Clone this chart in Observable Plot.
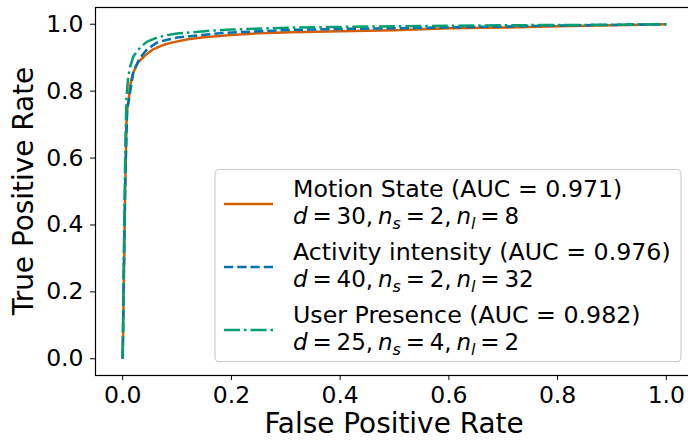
<!DOCTYPE html>
<html><head><meta charset="utf-8">
<script src="https://cdn.jsdelivr.net/npm/d3@7"></script>
<script src="https://cdn.jsdelivr.net/npm/@observablehq/plot@0.6"></script>
<style>
body{margin:0;background:#fff;overflow:hidden}
#chart{width:688px;height:440px;overflow:hidden;position:relative}
</style>
</head><body><div id="chart"></div>
<script>
// ---- data ----
const seriesNames = ["Motion State", "Activity intensity", "User Presence"];
const aucValues = [0.971, 0.976, 0.982];
const dValues = [30, 40, 25];
const nsValues = [2, 2, 4];
const nlValues = [8, 32, 2];
const seriesColors = ["#D55E00", "#0072B2", "#009E73"];
const seriesDashes = [null, "9.25,4", "16,4,2.5,4"];

const fprMotion = [0, 0.002, 0.004, 0.007, 0.009, 0.011, 0.013, 0.018, 0.028, 0.04, 0.056, 0.075, 0.09, 0.12, 0.15, 0.2, 0.25, 0.31, 0.4, 0.5, 0.6, 0.7, 0.8, 0.9, 1];
const tprMotion = [0, 0.2, 0.45, 0.70, 0.76, 0.77, 0.81, 0.85, 0.885, 0.905, 0.925, 0.938, 0.945, 0.955, 0.961, 0.968, 0.973, 0.976, 0.979, 0.982, 0.988, 0.990, 0.994, 0.997, 1];

const fprActivity = [0, 0.002, 0.005, 0.008, 0.011, 0.014, 0.02, 0.032, 0.045, 0.063, 0.08, 0.1, 0.14, 0.185, 0.25, 0.31, 0.4, 0.5, 0.6, 0.7, 0.8, 0.9, 1];
const tprActivity = [0, 0.25, 0.55, 0.74, 0.77, 0.80, 0.86, 0.90, 0.925, 0.945, 0.953, 0.96, 0.967, 0.974, 0.979, 0.983, 0.986, 0.988, 0.991, 0.993, 0.996, 0.998, 1];

const fprPresence = [0, 0.002, 0.005, 0.007, 0.01, 0.014, 0.02, 0.032, 0.045, 0.063, 0.08, 0.1, 0.155, 0.2, 0.31, 0.4, 0.5, 0.7, 0.85, 1];
const tprPresence = [0, 0.3, 0.65, 0.78, 0.84, 0.875, 0.905, 0.93, 0.948, 0.96, 0.967, 0.972, 0.98, 0.984, 0.99, 0.992, 0.994, 0.997, 0.998, 1];

const axisTicks = [0, 0.2, 0.4, 0.6, 0.8, 1.0];
const xLabel = "False Positive Rate";
const yLabel = "True Positive Rate";

// ---- build ----
const fprs = [fprMotion, fprActivity, fprPresence];
const tprs = [tprMotion, tprActivity, tprPresence];
const rows = [];
seriesNames.forEach((s, i) => fprs[i].forEach((f, j) => rows.push({series: s, fpr: f, tpr: tprs[i][j]})));

const FONT = "DejaVu Sans";
const plot = Plot.plot({
  width: 688, height: 440,
  marginLeft: 95, marginRight: -5, marginTop: 7, marginBottom: 65,
  style: {fontFamily: FONT, fontSize: "23.5px", color: "#000", background: "#fff", overflow: "hidden"},
  x: {domain: [-0.05, 1.05], ticks: axisTicks, tickFormat: d3.format(".1f"), label: null, tickSize: 5, tickPadding: 6},
  y: {domain: [-0.05, 1.05], ticks: axisTicks, tickFormat: d3.format(".1f"), label: null, tickSize: 5, tickPadding: 7},
  marks: [
    ...seriesNames.map((s, i) => Plot.line(rows.filter(r => r.series === s), {
      x: "fpr", y: "tpr", stroke: seriesColors[i], strokeWidth: 2.5,
      strokeDasharray: seriesDashes[i] || undefined, strokeLinejoin: "round", strokeLinecap: "butt"
    })),
    Plot.frame({stroke: "#000", strokeWidth: 1.2})
  ]
});

const svg = d3.select(plot);
// axis labels
svg.append("text").attr("x", 394).attr("y", 433).attr("text-anchor", "middle")
  .attr("font-family", FONT).attr("font-size", 27.9).attr("fill", "#000").text(xLabel);
svg.append("text").attr("transform", "translate(33,191) rotate(-90)").attr("text-anchor", "middle")
  .attr("font-family", FONT).attr("font-size", 27.9).attr("fill", "#000").text(yLabel);

// legend
const lg = svg.append("g").attr("font-family", FONT).attr("font-size", 23.7).attr("fill", "#000")
  .attr("text-anchor", "start");
lg.append("rect").attr("x", 215).attr("y", 169.5).attr("width", 466).attr("height", 192).attr("rx", 4)
  .attr("fill", "#fff").attr("fill-opacity", 0.8).attr("stroke", "#cccccc").attr("stroke-width", 1.2);
seriesNames.forEach((s, i) => {
  const y0 = 197 + i * 63;
  lg.append("line").attr("x1", 224).attr("x2", 273).attr("y1", y0 + 7).attr("y2", y0 + 7)
    .attr("stroke", seriesColors[i]).attr("stroke-width", 2.5)
    .attr("stroke-dasharray", seriesDashes[i]);
  lg.append("text").attr("x", 293).attr("y", y0).text(`${s} (AUC = ${aucValues[i].toFixed(3)})`);
  const t = lg.append("text").attr("x", 293).attr("y", y0 + 27).attr("font-size", 23).attr("word-spacing", "-2.5px");
  t.append("tspan").attr("font-style", "italic").text("d");
  t.append("tspan").text(` = ${dValues[i]}, `);
  t.append("tspan").attr("font-style", "italic").text("n");
  t.append("tspan").attr("font-style", "italic").attr("font-size", 16).attr("dy", 4.5).text("s");
  t.append("tspan").attr("dy", -4.5).text(` = ${nsValues[i]}, `);
  t.append("tspan").attr("font-style", "italic").text("n");
  t.append("tspan").attr("font-style", "italic").attr("font-size", 16).attr("dy", 4.5).text("l");
  t.append("tspan").attr("dy", -4.5).text(` = ${nlValues[i]}`);
});

document.getElementById("chart").appendChild(plot);
</script>
</body></html>
